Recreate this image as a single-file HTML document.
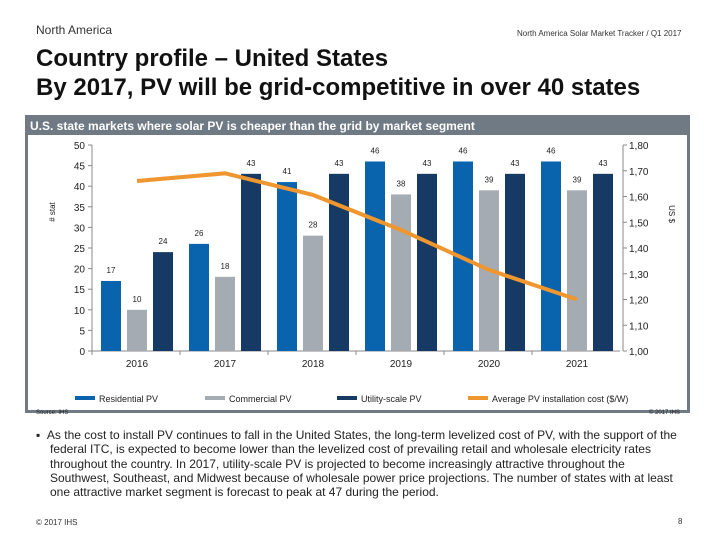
<!DOCTYPE html>
<html><head><meta charset="utf-8"><style>
body{margin:0;width:720px;height:540px;background:#fff;font-family:"Liberation Sans",sans-serif;position:relative;overflow:hidden}
.a{position:absolute;margin:0}
</style></head><body>
<div class="a" style="left:36px;top:23px;font-size:12px;color:#333">North America</div>
<div class="a" style="left:517px;top:29px;font-size:8px;color:#333">North America Solar Market Tracker / Q1 2017</div>
<div class="a" style="left:36px;top:44px;font-size:24px;font-weight:bold;line-height:29px;color:#111">Country profile – United States<br>By 2017, PV will be grid-competitive in over 40 states</div>
<div class="a" style="left:25px;top:115px;width:659px;height:295px;border:3px solid #6f7a85;border-top:none"></div>
<div class="a" style="left:25px;top:115px;width:665px;height:20px;background:#6f7a85;color:#fff;font-size:12px;font-weight:bold;line-height:22px;padding-left:5px;box-sizing:border-box;white-space:nowrap">U.S. state markets where solar PV is cheaper than the grid by market segment</div>
<svg class="a" style="left:0;top:0" width="720" height="540" id="chart"></svg>
<div class="a" style="left:36px;top:428px;width:680px;font-size:12px;line-height:14.3px;color:#222;padding-left:14px;text-indent:-14px;white-space:nowrap">▪&nbsp;&nbsp;As the cost to install PV continues to fall in the United States, the long-term levelized cost of PV, with the support of the<br>federal ITC, is expected to become lower than the levelized cost of prevailing retail and wholesale electricity rates<br>throughout the country. In 2017, utility-scale PV is projected to become increasingly attractive throughout the<br>Southwest, Southeast, and Midwest because of wholesale power price projections. The number of states with at least<br>one attractive market segment is forecast to peak at 47 during the period.</div>
<div class="a" style="left:36px;top:518px;font-size:8px;color:#333">© 2017 IHS</div>
<div class="a" style="left:678px;top:517px;font-size:8px;color:#333">8</div>
<script>
const years=["2016","2017","2018","2019","2020","2021"];
const residential=[17,26,41,46,46,46];
const commercial=[10,18,28,38,39,39];
const utility=[24,43,43,43,43,43];
const cost=[1.66,1.69,1.606,1.47,1.315,1.20];
const leftTicks=[0,5,10,15,20,25,30,35,40,45,50];
const rightTicks=[1.0,1.1,1.2,1.3,1.4,1.5,1.6,1.7,1.8];
const svg=document.getElementById('chart');const NS="http://www.w3.org/2000/svg";
const X0=92,X1=620,Y0=351,Y1=145;
const yL=v=>Y0-(v/50)*(Y0-Y1);
const yR=v=>Y0-((v-1)/0.8)*(Y0-Y1);
const gw=(X1-X0)/years.length;
const gx=i=>X0+gw*i;
function el(t,a,txt){const e=document.createElementNS(NS,t);for(const k in a)e.setAttribute(k,a[k]);if(txt!==undefined)e.textContent=txt;svg.appendChild(e);return e;}
let e;
e=el('line',{x1:X0,y1:Y1,x2:X0,y2:Y0,stroke:'#888'});


e=el('line',{x1:X0,y1:Y0,x2:X1,y2:Y0,stroke:'#888'});


e=el('line',{x1:X1+3,y1:Y1,x2:X1+3,y2:Y0,stroke:'#888'});


leftTicks.forEach(v=>{
 el('line',{x1:X0-4,x2:X0,y1:yL(v),y2:yL(v),stroke:'#888'});
 e=el('text',{x:X0-7,y:yL(v)+4,'text-anchor':'end','font-size':10,fill:'#222'},v);
 
 
});
rightTicks.forEach(v=>{
 el('line',{x1:X1+3,x2:X1+7,y1:yR(v),y2:yR(v),stroke:'#888'});
 e=el('text',{x:X1+9,y:yR(v)+4,'font-size':10,fill:'#222'},v.toFixed(2).replace('.',','));
 
 
});
e=el('text',{x:0,y:0,'font-size':8,fill:'#222',transform:'translate(55,212) rotate(-90)','text-anchor':'middle'},'# stat');


e=el('text',{x:0,y:0,'font-size':8,fill:'#222',transform:'translate(669,214) rotate(90)','text-anchor':'middle'},'US $');


const series=[[residential,'#0a63ad','residential'],[commercial,'#a4abb2','commercial'],[utility,'#163a63','utility']];
years.forEach((yr,i)=>{
 el('line',{x1:gx(i),x2:gx(i),y1:Y0,y2:Y0+4,stroke:'#888'});
 series.forEach(([arr,c,n],j)=>{
  const x=gx(i)+9+j*26,v=arr[i];
  e=el('rect',{x:x,y:yL(v),width:20,height:Y0-yL(v),fill:c});
  
  
  e=el('text',{x:x+10,y:yL(v)-8,'text-anchor':'middle','font-size':8,fill:'#222'},v);
  
  
 });
 e=el('text',{x:gx(i)+45,y:Y0+16,'text-anchor':'middle','font-size':10,fill:'#222'},yr);
 
 
});
e=el('polyline',{points:cost.map((v,i)=>(gx(i)+45)+','+yR(v)).join(' '),fill:'none',stroke:'#f0962e','stroke-width':4});


const legend=[['Residential PV','#0a63ad',75],['Commercial PV','#a4abb2',205],['Utility-scale PV','#163a63',337],['Average PV installation cost ($/W)','#f0962e',468]];
legend.forEach(([t,c,x])=>{
 el('rect',{x:x,y:396,width:20,height:4,fill:c});
 e=el('text',{x:x+24,y:402,'font-size':9,fill:'#222'},t);
 
 
});
e=el('text',{x:36,y:414,'font-size':6,fill:'#222'},'Source: IHS');


e=el('text',{x:680,y:414,'font-size':6,fill:'#222','text-anchor':'end'},'© 2017 IHS');


</script>
</body></html>
